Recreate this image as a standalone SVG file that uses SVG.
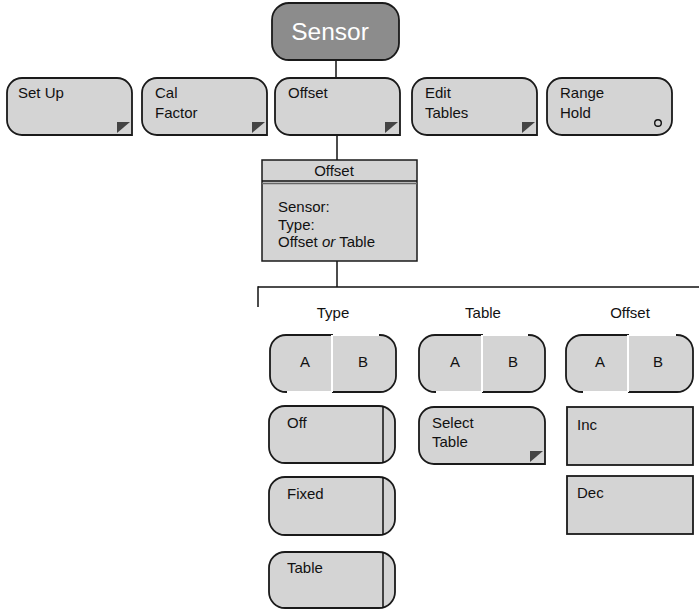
<svg xmlns="http://www.w3.org/2000/svg" width="699" height="609" viewBox="0 0 699 609">
<defs>
<style>
.btn{fill:#d4d4d4;stroke:#1a1a1a;stroke-width:1.8}
.t{font-family:"Liberation Sans",Arial,sans-serif;font-size:15px;fill:#111}
.tc{font-family:"Liberation Sans",Arial,sans-serif;font-size:15px;fill:#111;text-anchor:middle}
.tri{fill:#444}
.ln{stroke:#111;stroke-width:1.5;fill:none}
.wl{stroke:#fff;stroke-width:2}
</style>
</defs>
<rect width="699" height="609" fill="#fff"/>
<g id="connectors">
<line class="ln" x1="336" y1="60" x2="336" y2="78"/>
<line class="ln" x1="337" y1="135" x2="337" y2="160"/>
<line class="ln" x1="337" y1="261" x2="337" y2="287"/>
<line class="ln" x1="258" y1="287" x2="699" y2="287"/>
<line class="ln" x1="258" y1="286.3" x2="258" y2="307"/>
</g>
<g id="sensor">
<rect x="272" y="3" width="127" height="57" rx="17" fill="#8c8c8c" stroke="#1a1a1a" stroke-width="1.8"/>
<text x="330" y="40" font-family="'Liberation Sans',Arial,sans-serif" font-size="24.5" fill="#fff" text-anchor="middle">Sensor</text>
</g>
<g id="setup">
<path class="btn" d="M22,78H117A15,15 0 0 1 132,93V135H22A15,15 0 0 1 7,120V93A15,15 0 0 1 22,78Z"/>
<polygon class="tri" points="117,122 130,122 117,133"/>
<text class="t" x="18" y="98">Set Up</text>
</g>
<g id="calfactor">
<path class="btn" d="M157,78H252A15,15 0 0 1 267,93V135H157A15,15 0 0 1 142,120V93A15,15 0 0 1 157,78Z"/>
<polygon class="tri" points="252,122 265,122 252,133"/>
<text class="t" x="155" y="98">Cal</text>
<text class="t" x="155" y="118">Factor</text>
</g>
<g id="offset-btn">
<path class="btn" d="M290,78H385A15,15 0 0 1 400,93V135H290A15,15 0 0 1 275,120V93A15,15 0 0 1 290,78Z"/>
<polygon class="tri" points="385,122 398,122 385,133"/>
<text class="t" x="288" y="98">Offset</text>
</g>
<g id="edittables">
<path class="btn" d="M427,78H522A15,15 0 0 1 537,93V135H427A15,15 0 0 1 412,120V93A15,15 0 0 1 427,78Z"/>
<polygon class="tri" points="522,122 535,122 522,133"/>
<text class="t" x="425" y="98">Edit</text>
<text class="t" x="425" y="118">Tables</text>
</g>
<g id="rangehold">
<rect class="btn" x="547" y="78" width="125" height="57" rx="15"/>
<circle cx="658" cy="123" r="3.3" fill="none" stroke="#111" stroke-width="1.4"/>
<text class="t" x="560" y="98">Range</text>
<text class="t" x="560" y="118">Hold</text>
</g>
<g id="offset-box">
<rect x="262" y="160" width="155" height="101" fill="#d4d4d4" stroke="#1a1a1a" stroke-width="1.5"/>
<line x1="262" y1="181" x2="417" y2="181" stroke="#111" stroke-width="1.5"/>
<line x1="262" y1="183.5" x2="417" y2="183.5" stroke="#666" stroke-width="1.5"/>
<text class="tc" x="334" y="176">Offset</text>
<text class="t" x="278" y="212">Sensor:</text>
<text class="t" x="278" y="230">Type:</text>
<text class="t" x="278" y="247">Offset <tspan font-style="italic">or</tspan> Table</text>
</g>
<g id="hdr-type"><text class="tc" x="333" y="318">Type</text></g>
<g id="hdr-table"><text class="tc" x="483" y="318">Table</text></g>
<g id="hdr-offset"><text class="tc" x="630" y="318">Offset</text></g>
<g id="type-ab">
<rect class="btn" x="270" y="335" width="126" height="57" rx="16"/>
<line class="wl" x1="332" y1="335" x2="332" y2="392"/>
<line class="wl" x1="333" y1="335" x2="379" y2="335"/>
<line class="wl" x1="287" y1="392" x2="332" y2="392"/>
<text class="tc" x="305" y="367">A</text>
<text class="tc" x="363" y="367">B</text>
</g>
<g id="table-ab">
<rect class="btn" x="419" y="335" width="126" height="57" rx="16"/>
<line class="wl" x1="482" y1="335" x2="482" y2="392"/>
<line class="wl" x1="483" y1="335" x2="528" y2="335"/>
<line class="wl" x1="436" y1="392" x2="482" y2="392"/>
<text class="tc" x="455" y="367">A</text>
<text class="tc" x="513" y="367">B</text>
</g>
<g id="offset-ab">
<rect class="btn" x="566" y="335" width="127" height="57" rx="16"/>
<line class="wl" x1="628" y1="335" x2="628" y2="392"/>
<line class="wl" x1="629" y1="335" x2="676" y2="335"/>
<line class="wl" x1="583" y1="392" x2="628" y2="392"/>
<text class="tc" x="600" y="367">A</text>
<text class="tc" x="658" y="367">B</text>
</g>
<g id="off">
<rect class="btn" x="269" y="406" width="126" height="57" rx="16"/>
<line class="ln" x1="383" y1="406" x2="383" y2="463" stroke-width="1.8"/>
<text class="t" x="287" y="428">Off</text>
</g>
<g id="fixed">
<rect class="btn" x="269" y="477" width="126" height="58" rx="16"/>
<line class="ln" x1="383" y1="477" x2="383" y2="535" stroke-width="1.8"/>
<text class="t" x="287" y="499">Fixed</text>
</g>
<g id="table">
<rect class="btn" x="269" y="552" width="126" height="56" rx="16"/>
<line class="ln" x1="383" y1="552" x2="383" y2="608" stroke-width="1.8"/>
<text class="t" x="287" y="573">Table</text>
</g>
<g id="selecttable">
<path class="btn" d="M434,407H530A15,15 0 0 1 545,422V464H434A15,15 0 0 1 419,449V422A15,15 0 0 1 434,407Z"/>
<polygon class="tri" points="530,451 543,451 530,462"/>
<text class="t" x="432" y="428">Select</text>
<text class="t" x="432" y="447">Table</text>
</g>
<g id="inc">
<rect class="btn" x="567" y="407" width="126" height="58"/>
<text class="t" x="577" y="430">Inc</text>
</g>
<g id="dec">
<rect class="btn" x="567" y="476" width="126" height="58"/>
<text class="t" x="577" y="498">Dec</text>
</g>
</svg>
